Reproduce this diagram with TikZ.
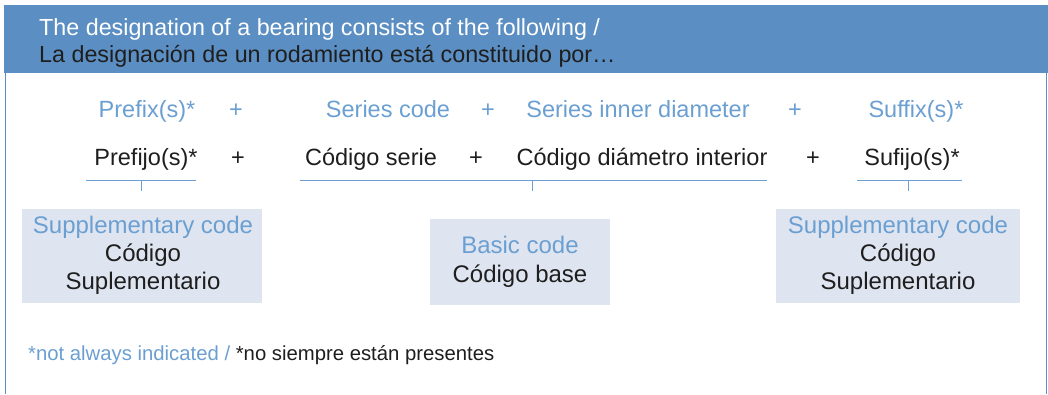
\documentclass[tikz,border=0pt]{standalone}
\usepackage{fontspec}
\setmainfont{Liberation Sans}
\definecolor{hdr}{HTML}{5B8EC2}
\definecolor{lblue}{HTML}{6B9FD1}
\definecolor{boxfill}{HTML}{DFE5F0}
\definecolor{dark}{HTML}{1E1E1E}
\tikzset{
  rowfont/.style={font=\fontsize{23.5}{28}\selectfont, inner sep=0pt, anchor=base},
  en/.style={rowfont, text=lblue},
  es/.style={rowfont, text=dark},
  hdrtxt/.style={font=\fontsize{23.3}{28}\selectfont, inner sep=0pt, anchor=base west},
  boxtxt/.style={font=\fontsize{24}{28}\selectfont, inner sep=0pt, anchor=base},
  codebox/.style={fill=boxfill, draw=none, inner sep=0pt},
  uline/.style={draw=lblue, line width=1pt},
  border/.style={draw=hdr, line width=1.5pt},
}
\begin{document}
\begin{tikzpicture}[x=1pt,y=-1pt]
\useasboundingbox (0,0) rectangle (1048,394);
% header
\fill[hdr] (4,5) rectangle (1047.5,73);
\node[hdrtxt, text=white] (h1) at (39,35) {The designation of a bearing consists of the following /};
\node[hdrtxt, text=dark] (h2) at (39,62) {La designación de un rodamiento está constituido por…};
% frame sides
\coordinate (lt) at (5.5,73); \coordinate (lb) at (5.5,394);
\coordinate (rt) at (1046.5,73); \coordinate (rb) at (1046.5,394);
\draw[border] (lt) -- (lb);
\draw[border] (rt) -- (rb);
% row 1 (English)
\node[en] (pfx) at (147,117) {Prefix(s)*};
\node[en] (p1) at (236,117) {+};
\node[en] (ser) at (388,117) {Series code};
\node[en] (p2) at (488,117) {+};
\node[en] (sid) at (638,117) {Series inner diameter};
\node[en] (p3) at (795,117) {+};
\node[en] (sfx) at (916,117) {Suffix(s)*};
% row 2 (Spanish)
\node[es] (pre) at (146,165) {Prefijo(s)*};
\node[es] (q1) at (238,165) {+};
\node[es] (cse) at (371,165) {Código serie};
\node[es] (q2) at (476,165) {+};
\node[es] (cdi) at (642,165) {Código diámetro interior};
\node[es] (q3) at (813,165) {+};
\node[es] (suf) at (912,165) {Sufijo(s)*};
% underlines and ticks
\coordinate (ul1a) at (86,180); \coordinate (ul1b) at (196,180);
\coordinate (t1a) at (141,180); \coordinate (t1b) at (141,191);
\coordinate (ul2a) at (300,180); \coordinate (ul2b) at (767,180);
\coordinate (t2a) at (532,180); \coordinate (t2b) at (532,191);
\coordinate (ul3a) at (857,180); \coordinate (ul3b) at (962,180);
\coordinate (t3a) at (908,180); \coordinate (t3b) at (908,191);
\draw[uline] (ul1a) -- (ul1b); \draw[uline] (t1a) -- (t1b);
\draw[uline] (ul2a) -- (ul2b); \draw[uline] (t2a) -- (t2b);
\draw[uline] (ul3a) -- (ul3b); \draw[uline] (t3a) -- (t3b);
% boxes
\node[codebox, minimum width=240pt, minimum height=94pt] (lbox) at (142,256) {};
\node[codebox, minimum width=180pt, minimum height=86pt] (cbox) at (520,262) {};
\node[codebox, minimum width=244pt, minimum height=94pt] (rbox) at (898,256) {};
\node[boxtxt, text=lblue] (l1) at (143,233) {Supplementary code};
\node[boxtxt, text=dark] (l2) at (143,261) {Código};
\node[boxtxt, text=dark] (l3) at (143,289) {Suplementario};
\node[boxtxt, text=lblue] (c1) at (520,253) {Basic code};
\node[boxtxt, text=dark] (c2) at (520,282) {Código base};
\node[boxtxt, text=lblue] (r1) at (898,233) {Supplementary code};
\node[boxtxt, text=dark] (r2) at (898,261) {Código};
\node[boxtxt, text=dark] (r3) at (898,289) {Suplementario};
% footnote
\node[font=\fontsize{20.3}{24}\selectfont, inner sep=0pt, anchor=base west] (fn) at (28,360) {\textcolor{lblue}{*not always indicated / }\textcolor{dark}{*no siempre están presentes}};
\end{tikzpicture}
\end{document}
